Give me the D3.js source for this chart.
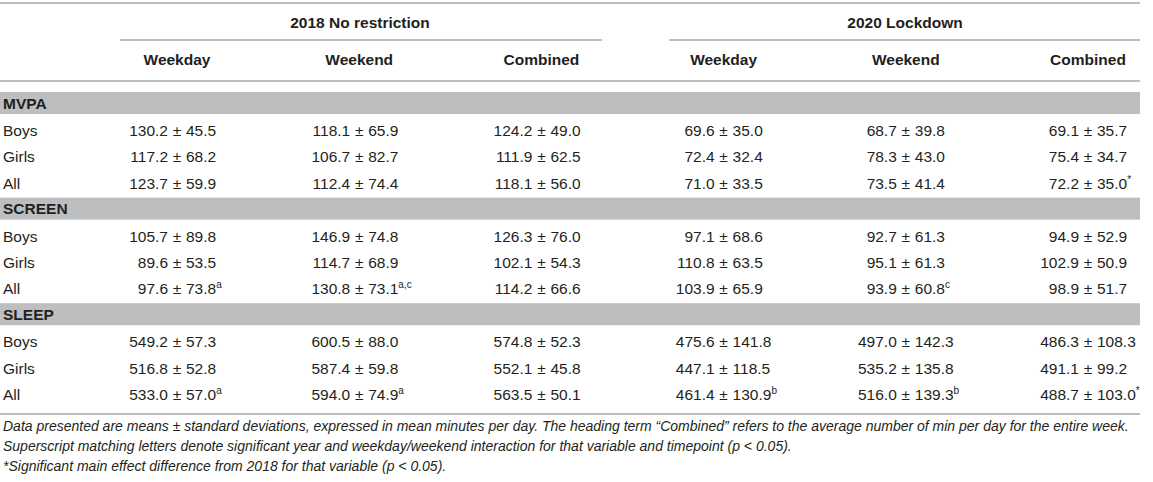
<!DOCTYPE html>
<meta charset="utf-8">
<style>

    body {
        margin: 0;
        background: #fff;
    }

    svg text {
        font-family: "Liberation Sans", Arial, Helvetica, sans-serif;
        fill: #231f20;
    }

    .head {
        font-weight: bold;
        font-size: 15.5px;
    }

    .cell {
        font-size: 15.5px;
    }

    .note {
        font-size: 14px;
        font-style: italic;
    }

</style>
<body>
<script src="https://cdnjs.cloudflare.com/ajax/libs/d3/7.8.5/d3.min.js"></script>
<script>

    var width = 1153;
    var height = 482;
    var TABLE_RIGHT = 1140;

    // column headers
    var periods = ["2018 No restriction", "2020 Lockdown"];
    var days = ["Weekday", "Weekend", "Combined"];
    var columns = ["2018 Weekday", "2018 Weekend", "2018 Combined", "2020 Weekday", "2020 Weekend", "2020 Combined"];

    var measures = ["MVPA", "SCREEN", "SLEEP"];
    var groups = ["Boys", "Girls", "All"];

    // means (minutes per day), one row per group
    var mvpaMean = [
        [130.2, 118.1, 124.2, 69.6, 68.7, 69.1],
        [117.2, 106.7, 111.9, 72.4, 78.3, 75.4],
        [123.7, 112.4, 118.1, 71.0, 73.5, 72.2]
    ];
    var mvpaSd = [
        [45.5, 65.9, 49.0, 35.0, 39.8, 35.7],
        [68.2, 82.7, 62.5, 32.4, 43.0, 34.7],
        [59.9, 74.4, 56.0, 33.5, 41.4, 35.0]
    ];
    var mvpaSup = [
        ["", "", "", "", "", ""],
        ["", "", "", "", "", ""],
        ["", "", "", "", "", "*"]
    ];

    var screenMean = [
        [105.7, 146.9, 126.3, 97.1, 92.7, 94.9],
        [89.6, 114.7, 102.1, 110.8, 95.1, 102.9],
        [97.6, 130.8, 114.2, 103.9, 93.9, 98.9]
    ];
    var screenSd = [
        [89.8, 74.8, 76.0, 68.6, 61.3, 52.9],
        [53.5, 68.9, 54.3, 63.5, 61.3, 50.9],
        [73.8, 73.1, 66.6, 65.9, 60.8, 51.7]
    ];
    var screenSup = [
        ["", "", "", "", "", ""],
        ["", "", "", "", "", ""],
        ["a", "a,c", "", "", "c", ""]
    ];

    var sleepMean = [
        [549.2, 600.5, 574.8, 475.6, 497.0, 486.3],
        [516.8, 587.4, 552.1, 447.1, 535.2, 491.1],
        [533.0, 594.0, 563.5, 461.4, 516.0, 488.7]
    ];
    var sleepSd = [
        [57.3, 88.0, 52.3, 141.8, 142.3, 108.3],
        [52.8, 59.8, 45.8, 118.5, 135.8, 99.2],
        [57.0, 74.9, 50.1, 130.9, 139.3, 103.0]
    ];
    var sleepSup = [
        ["", "", "", "", "", ""],
        ["", "", "", "", "", ""],
        ["a", "a", "", "b", "b", "*"]
    ];

    var notes = [
        "Data presented are means \u00b1 standard deviations, expressed in mean minutes per day. The heading term \u201cCombined\u201d refers to the average number of min per day for the entire week.",
        "Superscript matching letters denote significant year and weekday/weekend interaction for that variable and timepoint (p < 0.05).",
        "*Significant main effect difference from 2018 for that variable (p < 0.05)."
    ];

    var tableData = [
        {name: measures[0], mean: mvpaMean, sd: mvpaSd, sup: mvpaSup},
        {name: measures[1], mean: screenMean, sd: screenSd, sup: screenSup},
        {name: measures[2], mean: sleepMean, sd: sleepSd, sup: sleepSup}
    ];

    var svg = d3.select("body").append("svg")
        .attr("width", width)
        .attr("height", height);

    /////////////////////////////////
    // SCALES
    /////////////////////////////////

    // x of the column centre (the ± sign sits on it)
    var x = d3.scalePoint()
        .domain(columns)
        .range([177, 1088]);

    var periodX = d3.scalePoint()
        .domain(periods)
        .range([360, 905]);

    // one unit per table line: band, boys, girls, all
    var ROW_UNIT = 26.4;
    var y = d3.scaleLinear()
        .domain([0, 12])
        .range([92, 92 + 12 * ROW_UNIT]);

    var lineColor = "#a7a9ac";
    var bandColor = "#bcbec0";

    /////////////////////////////////
    // HEADER
    /////////////////////////////////

    function hline(x1, x2, yy) {
        svg.append("line")
            .attr("x1", x1).attr("x2", x2)
            .attr("y1", yy).attr("y2", yy)
            .attr("stroke", lineColor)
            .attr("stroke-width", 1.5);
    }

    hline(0, TABLE_RIGHT, 3);
    hline(0, TABLE_RIGHT, 81);
    hline(0, TABLE_RIGHT, 414);

    svg.selectAll("text.period")
        .data(periods)
        .enter()
        .append("text")
        .attr("class", "period head")
        .attr("x", function (d) { return periodX(d); })
        .attr("y", 28)
        .attr("text-anchor", "middle")
        .text(function (d) { return d; });

    // underline over each period's three columns
    var spans = [[120, 602], [669, TABLE_RIGHT]];
    spans.forEach(function (s) {
        hline(s[0], s[1], 40);
    });

    svg.selectAll("text.day")
        .data(columns)
        .enter()
        .append("text")
        .attr("class", "day head")
        .attr("x", function (d) { return x(d); })
        .attr("y", 65)
        .attr("text-anchor", "middle")
        .text(function (d, i) { return days[i % 3]; });

    /////////////////////////////////
    // BODY
    /////////////////////////////////

    var BAND_H = 22;
    var PM_GAP = 9;

    tableData.forEach(function (m, k) {
        var base = k * 4;

        svg.append("rect")
            .attr("x", 0)
            .attr("y", y(base))
            .attr("width", TABLE_RIGHT)
            .attr("height", BAND_H)
            .attr("fill", bandColor);

        svg.append("text")
            .attr("class", "head")
            .attr("x", 3)
            .attr("y", y(base) + 16.5)
            .text(m.name);

        groups.forEach(function (g, i) {
            var rowY = y(base + i + 1) + 17.6;

            svg.append("text")
                .attr("class", "cell")
                .attr("x", 3)
                .attr("y", rowY)
                .text(g);

            var cells = svg.selectAll("g.cell-" + k + "-" + i)
                .data(columns)
                .enter()
                .append("g")
                .attr("class", "cell-" + k + "-" + i)
                .attr("transform", function (d) {
                    return "translate(" + x(d) + "," + rowY + ")";
                });

            cells.append("text")
                .attr("class", "cell")
                .attr("x", -PM_GAP)
                .attr("text-anchor", "end")
                .text(function (d, j) { return m.mean[i][j].toFixed(1); });

            cells.append("text")
                .attr("class", "cell")
                .attr("text-anchor", "middle")
                .text("\u00b1");

            var sdText = cells.append("text")
                .attr("class", "cell")
                .attr("x", PM_GAP);

            sdText.append("tspan")
                .text(function (d, j) { return m.sd[i][j].toFixed(1); });

            sdText.append("tspan")
                .attr("dy", -6)
                .style("font-size", "10px")
                .text(function (d, j) { return m.sup[i][j]; });
        });
    });

    /////////////////////////////////
    // FOOTNOTES
    /////////////////////////////////

    svg.selectAll("text.note")
        .data(notes)
        .enter()
        .append("text")
        .attr("class", "note")
        .attr("x", 3)
        .attr("y", function (d, i) { return 431 + i * 20; })
        .text(function (d) { return d; });

</script>
</body>
</html>
